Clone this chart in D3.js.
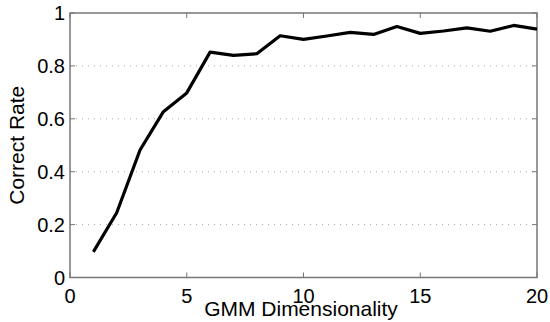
<!DOCTYPE html>
<html lang="en">
<head>
<meta charset="utf-8">
<title>Correct Rate vs GMM Dimensionality</title>
<script src="https://d3js.org/d3.v7.min.js"></script>
<style>
    body { margin: 0; background: #fff; }
    text { font-family: "Liberation Sans", Arial, sans-serif; }
</style>
</head>
<body>
<div id="s"></div>
<script>
var WIDTH = 550;
var HEIGHT = 322;

// data
var dims = [1, 2, 3, 4, 5, 6, 7, 8, 9, 10, 11, 12, 13, 14, 15, 16, 17, 18, 19, 20];
var rates = [0.097, 0.245, 0.482, 0.627, 0.698, 0.852, 0.840, 0.846, 0.914, 0.900,
             0.913, 0.927, 0.919, 0.949, 0.923, 0.932, 0.944, 0.931, 0.953, 0.939];
var xTicks = [0, 5, 10, 15, 20];
var yTicks = [0, 0.2, 0.4, 0.6, 0.8, 1];
var yTickLabels = ["0", "0.2", "0.4", "0.6", "0.8", "1"];

// plot box (window.top is taken, so no plain "top")
var pLeft = 70, pRight = 537, pTop = 13, pBottom = 277.5;

const svg = d3.select("#s")
    .append('svg')
    .attr('width', WIDTH)
    .attr('height', HEIGHT);

var x = d3.scaleLinear().domain([0, 20]).range([pLeft, pRight]);
var y = d3.scaleLinear().domain([0, 1]).range([pBottom, pTop]);

// dotted grid, only the inner ticks
svg.append("g").selectAll("line")
    .data(yTicks.slice(1, -1))
    .join("line")
    .attr("x1", pLeft).attr("x2", pRight)
    .attr("y1", d => y(d)).attr("y2", d => y(d))
    .attr("stroke", "#aaa")
    .attr("stroke-width", 1)
    .attr("stroke-dasharray", "1,5");

// box
svg.append("rect")
    .attr("x", pLeft).attr("y", pTop)
    .attr("width", pRight - pLeft).attr("height", pBottom - pTop)
    .attr("fill", "none")
    .attr("stroke", "#777")
    .attr("stroke-width", 1.5);

// inward ticks on all four sides
var tk = 5;
xTicks.forEach(function(t) {
    svg.append("line").attr("x1", x(t)).attr("x2", x(t))
        .attr("y1", pBottom).attr("y2", pBottom - tk).attr("stroke", "#777");
    svg.append("line").attr("x1", x(t)).attr("x2", x(t))
        .attr("y1", pTop).attr("y2", pTop + tk).attr("stroke", "#777");
});
yTicks.forEach(function(t) {
    svg.append("line").attr("x1", pLeft).attr("x2", pLeft + tk)
        .attr("y1", y(t)).attr("y2", y(t)).attr("stroke", "#777");
    svg.append("line").attr("x1", pRight).attr("x2", pRight - tk)
        .attr("y1", y(t)).attr("y2", y(t)).attr("stroke", "#777");
});

// tick labels
svg.append("g").selectAll("text")
    .data(xTicks)
    .join("text")
    .attr("x", d => x(d))
    .attr("y", 303)
    .attr("text-anchor", "middle")
    .attr("font-size", 20)
    .text(d => d);

svg.append("g").selectAll("text")
    .data(yTicks)
    .join("text")
    .attr("x", pLeft - 5)
    .attr("y", d => y(d))
    .attr("dy", "0.35em")
    .attr("text-anchor", "end")
    .attr("font-size", 20)
    .text((d, i) => yTickLabels[i]);

// axis titles
svg.append("text")
    .attr("x", 301)
    .attr("y", 316)
    .attr("text-anchor", "middle")
    .attr("font-size", 21)
    .text("GMM Dimensionality");

svg.append("text")
    .attr("transform", "translate(24," + ((pTop + pBottom) / 2) + ") rotate(-90)")
    .attr("text-anchor", "middle")
    .attr("font-size", 21)
    .text("Correct Rate");

// the curve
var line = d3.line()
    .x((d, i) => x(dims[i]))
    .y(d => y(d));

svg.append("path")
    .datum(rates)
    .attr("d", line)
    .attr("fill", "none")
    .attr("stroke", "#000")
    .attr("stroke-width", 3.2)
    .attr("stroke-linejoin", "round");
</script>
</body>
</html>
